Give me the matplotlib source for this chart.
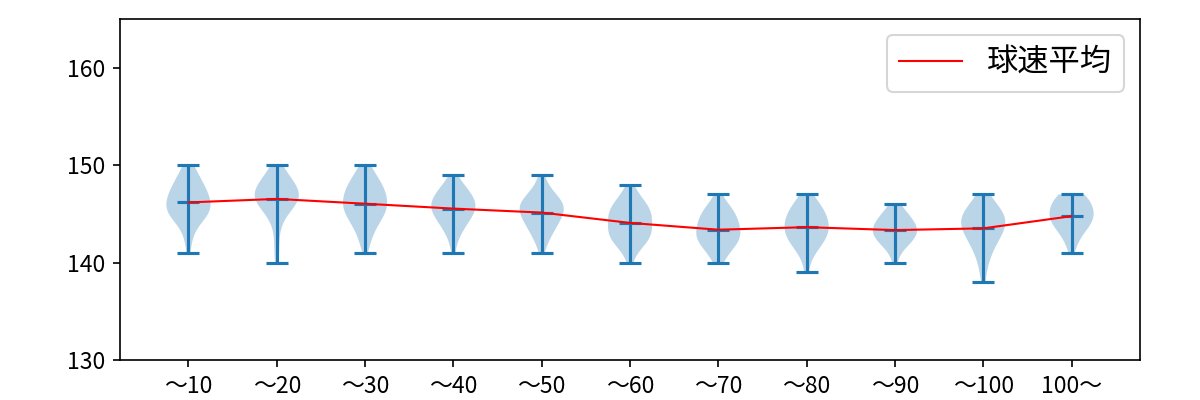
import numpy as np
import matplotlib
matplotlib.use("Agg")
import matplotlib.pyplot as plt

plt.rcParams['font.family'] = ['Noto Sans CJK JP', 'DejaVu Sans']

labels = ["～10", "～20", "～30", "～40", "～50", "～60", "～70", "～80", "～90", "～100", "100～"]

# lowest speed in each bin and how many pitches at each km/h from there up
low_speeds = [141, 140, 141, 141, 141, 140, 140, 139, 140, 138, 141]
counts = [
    [1, 1, 2, 4, 9, 9, 8, 6, 4, 2],
    [1, 1, 1, 1, 2, 4, 9, 11, 8, 5, 2],
    [1, 2, 3, 5, 8, 9, 8, 7, 4, 2],
    [1, 1, 3, 5, 8, 9, 7, 4, 1],
    [1, 2, 4, 6, 8, 9, 5, 2, 1],
    [1, 2, 6, 8, 7, 8, 6, 3, 1],
    [2, 4, 8, 9, 8, 7, 4, 1],
    [1, 1, 3, 6, 8, 8, 7, 5, 2],
    [1, 2, 6, 9, 8, 5, 2],
    [1, 1, 2, 3, 5, 7, 9, 8, 5, 2],
    [1, 2, 4, 7, 8, 7, 5],
]

data = []
for lo, c in zip(low_speeds, counts):
    speeds = np.arange(lo, lo + len(c))
    data.append(np.repeat(speeds, c).astype(float))

means = [d.mean() for d in data]
pos = np.arange(1, len(labels) + 1)

fig = plt.figure(figsize=(8, 8 / 3), dpi=150)
ax = fig.add_axes([0.1, 0.1, 0.85, 0.8525])
ax.violinplot(data, positions=pos, showmeans=True)
ax.plot(pos, means, color="red", linewidth=1, label="球速平均")
ax.set_ylim(130, 165)
ax.set_yticks([130, 140, 150, 160])
ax.set_xticks(pos)
ax.set_xticklabels(labels)
ax.tick_params(labelsize=11)
ax.legend(loc="upper right", fontsize=15)

fig.savefig("out.png", dpi=150)
